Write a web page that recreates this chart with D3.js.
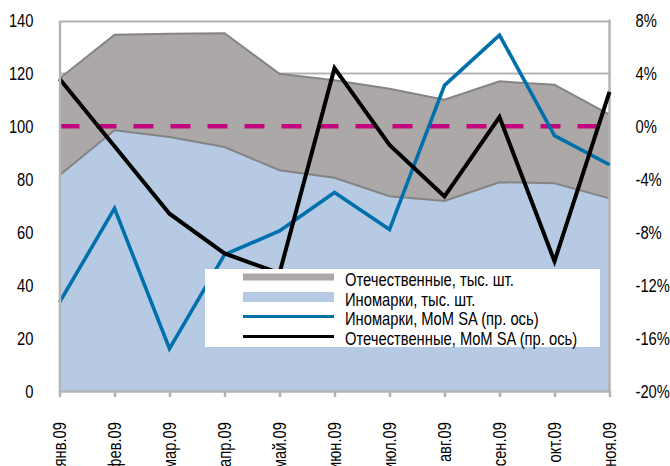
<!DOCTYPE html>
<html><head><meta charset="utf-8">
<script src="https://cdn.jsdelivr.net/npm/d3@7"></script>
<style>
body{margin:0;background:#fff;}
svg{display:block;}
text{font-family:'Liberation Sans',Arial,sans-serif;fill:#000;}
</style></head>
<body><svg id="c" width="670" height="466"></svg>
<script>
const months = ["янв.09","фев.09","мар.09","апр.09","май.09","июн.09","июл.09","авг.09","сен.09","окт.09","ноя.09"];
const foreignK = [81.5, 98.5, 96, 92.2, 83.4, 80.6, 73.6, 71.8, 78.9, 78.5, 72.8];
const domesticK = [36.6, 36.1, 39, 43, 36.5, 36.8, 40.6, 38.3, 38.1, 37.2, 31.6];
const foreignMoM = [-13.3, -6.2, -16.8, -9.7, -7.9, -5.0, -7.8, 3.1, 6.9, -0.7, -2.9];
const domesticMoM = [3.6, -1.5, -6.6, -9.6, -11.1, 4.4, -1.4, -5.3, 0.7, -10.2, 2.6];
const leftTicks = [0,20,40,60,80,100,120,140];
const rightTicks = [-20,-16,-12,-8,-4,0,4,8];
const legendLabels = ["Отечественные, тыс. шт.","Иномарки, тыс. шт.","Иномарки, MoM SA (пр. ось)","Отечественные, MoM SA (пр. ось)"];

const SX = 0.82, FS = 18;
const svg = d3.select("#c");
const L=59.5, R=609.5, T=20.5, B=391;
const x = d3.scalePoint().domain(months).range([L,R]);
const y = d3.scaleLinear().domain([0,140]).range([B,T]);
const y2 = d3.scaleLinear().domain([-20,8]).range([B,T]);

const data = months.map((m,i)=>({m, f:foreignK[i], d:domesticK[i], fm:foreignMoM[i], dm:domesticMoM[i]}));

// gridlines
svg.append("g").selectAll("line").data(leftTicks.filter(v=>v>0)).join("line")
  .attr("x1",L).attr("x2",R).attr("y1",d=>Math.round(y(d))+0.5).attr("y2",d=>Math.round(y(d))+0.5)
  .attr("stroke","#b3b3b3").attr("stroke-width",2);

// stacked areas
const totalArea = d3.area().x(d=>x(d.m)).y0(B).y1(d=>y(d.f+d.d));
const foreignArea = d3.area().x(d=>x(d.m)).y0(B).y1(d=>y(d.f));
svg.append("path").datum(data).attr("d",totalArea).attr("fill","#aca8a7");
svg.append("path").datum(data).attr("d",d3.line().x(d=>x(d.m)).y(d=>y(d.f+d.d))).attr("fill","none").attr("stroke","#848484").attr("stroke-width",2);
svg.append("path").datum(data).attr("d",foreignArea).attr("fill","#b6cae4");
svg.append("path").datum(data).attr("d",d3.line().x(d=>x(d.m)).y(d=>y(d.f))).attr("fill","none").attr("stroke","#848484").attr("stroke-width",2);

// zero reference dashed line
svg.append("line").attr("x1",L).attr("x2",R).attr("y1",y2(0)).attr("y2",y2(0))
  .attr("stroke","#c2067e").attr("stroke-width",4.5).attr("stroke-dasharray","20,17");

// frame
svg.append("line").attr("x1",R).attr("x2",R).attr("y1",T-1).attr("y2",B).attr("stroke","#b3b3b3").attr("stroke-width",2.5);

// lines
const lf = d3.line().x(d=>x(d.m)).y(d=>y2(d.fm));
const ld = d3.line().x(d=>x(d.m)).y(d=>y2(d.dm));
svg.append("path").datum(data).attr("d",lf).attr("fill","none").attr("stroke","#0070ad").attr("stroke-width",3.6).attr("stroke-linejoin","miter");
svg.append("path").datum(data).attr("d",ld).attr("fill","none").attr("stroke","#000").attr("stroke-width",4).attr("stroke-linejoin","miter");

// axes
const gl = svg.append("g").attr("transform",`translate(${L},0)`).call(d3.axisLeft(y).tickValues(leftTicks).tickSize(0).tickFormat(d3.format("d")));
gl.select(".domain").attr("stroke","#b3b3b3").attr("stroke-width",2.5);
gl.selectAll("text").attr("font-size",FS).attr("font-family",null).attr("x",0).attr("dy","0.35em")
  .attr("transform",`translate(-26,0) scale(${SX},1)`);

const gr = svg.append("g").attr("transform",`translate(${R},0)`).call(d3.axisRight(y2).tickValues(rightTicks).tickSize(0).tickFormat(d=>d+"%"));
gr.select(".domain").remove();
gr.selectAll("text").attr("font-size",FS).attr("font-family",null).attr("x",0).attr("dy","0.35em")
  .attr("transform",`translate(26,0) scale(${SX},1)`);

const gb = svg.append("g").attr("transform",`translate(0,${B})`).call(d3.axisBottom(x).tickSize(6).tickPadding(0));
gb.select(".domain").attr("stroke","#b3b3b3").attr("stroke-width",2.5).attr("d",`M${L},0.5H${R}`);
gb.selectAll(".tick line").attr("stroke","#b3b3b3").attr("stroke-width",2.5);
gb.selectAll("text").attr("font-size",FS).attr("font-family",null)
  .attr("transform",`translate(0,31) rotate(-90) scale(${SX},1)`).attr("text-anchor","end").attr("x",0).attr("y",0).attr("dy","0.35em");

// legend
const lg = svg.append("g");
lg.append("rect").attr("x",205).attr("y",269).attr("width",395).attr("height",78).attr("fill","#fff");
const rows=[277,297,316.5,336.5];
const sw = [{c:"#aca8a7",w:7},{c:"#b6cae4",w:10},{c:"#0070ad",w:3},{c:"#000",w:3}];
rows.forEach((ry,i)=>{
  lg.append("line").attr("x1",243).attr("x2",334).attr("y1",ry).attr("y2",ry).attr("stroke",sw[i].c).attr("stroke-width",sw[i].w);
  lg.append("text").attr("transform",`translate(345,${ry+8.5}) scale(${SX},1)`).attr("font-size",FS).text(legendLabels[i]);
});
</script></body></html>
